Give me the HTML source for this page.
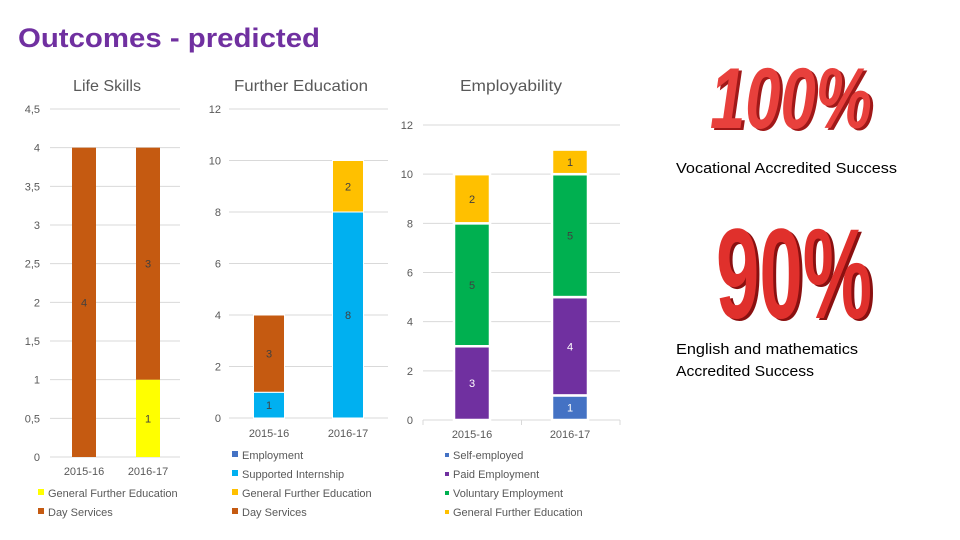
<!DOCTYPE html>
<html><head><meta charset="utf-8"><style>
html,body{margin:0;padding:0;background:#fff;}
svg{display:block;font-family:"Liberation Sans",sans-serif;}
</style></head><body>
<svg id="s" width="960" height="540" xmlns="http://www.w3.org/2000/svg">
<text x="18" y="47" font-size="27" font-weight="bold" fill="#7030A0" textLength="302" lengthAdjust="spacingAndGlyphs">Outcomes - predicted</text>
<text x="73" y="91" font-size="16" fill="#595959" textLength="68" lengthAdjust="spacingAndGlyphs">Life Skills</text>
<text x="234" y="91" font-size="16" fill="#595959" textLength="134" lengthAdjust="spacingAndGlyphs">Further Education</text>
<text x="460" y="91" font-size="16" fill="#595959" textLength="102" lengthAdjust="spacingAndGlyphs">Employability</text>
<g>
<text x="710" y="128" font-size="86" font-weight="bold" font-style="italic" fill="#a01818" textLength="162" lengthAdjust="spacingAndGlyphs" transform="translate(3,2)">100%</text>
<text x="710" y="128" font-size="86" font-weight="bold" font-style="italic" fill="#e8403c" textLength="162" lengthAdjust="spacingAndGlyphs">100%</text>
</g>
<text x="676" y="173" font-size="15" fill="#000" textLength="221" lengthAdjust="spacingAndGlyphs">Vocational Accredited Success</text>
<g>
<text x="716" y="318" font-size="128" font-weight="bold" fill="#8a1010" textLength="156" lengthAdjust="spacingAndGlyphs" transform="translate(3,2)">90%</text>
<text x="716" y="318" font-size="128" font-weight="bold" fill="#e0302c" textLength="156" lengthAdjust="spacingAndGlyphs">90%</text>
</g>
<text x="676" y="354" font-size="15" fill="#000" textLength="182" lengthAdjust="spacingAndGlyphs">English and mathematics</text>
<text x="676" y="376" font-size="15" fill="#000" textLength="138" lengthAdjust="spacingAndGlyphs">Accredited Success</text>
</svg>
<script>
// Life Skills
const lsCategories = ["2015-16","2016-17"];
const lsSeries = ["General Further Education","Day Services"];
const lsGFE = [0,1];
const lsDay = [4,3];
const lsTicks = ["0","0,5","1","1,5","2","2,5","3","3,5","4","4,5"];
// Further Education
const feCategories = ["2015-16","2016-17"];
const feSeries = ["Employment","Supported Internship","General Further Education","Day Services"];
const feEmployment = [0,0];
const feInternship = [1,8];
const feGFE = [0,2];
const feDay = [3,0];
const feTicks = ["0","2","4","6","8","10","12"];
// Employability
const emCategories = ["2015-16","2016-17"];
const emSeries = ["Self-employed","Paid Employment","Voluntary Employment","General Further Education"];
const emSelf = [0,1];
const emPaid = [3,4];
const emVol = [5,5];
const emGFE = [2,1];
const emTicks = ["0","2","4","6","8","10","12"];

const S = document.getElementById('s');
const NS = "http://www.w3.org/2000/svg";
function mk(tag, attrs, parent){ const e=document.createElementNS(NS,tag); for(const k in attrs) e.setAttribute(k,attrs[k]); (parent||S).appendChild(e); return e; }

function chart(cfg){
  const g = mk('g',{});
  
  
  const y = v => cfg.y0 - (v/cfg.max)*(cfg.y0-cfg.yTop);
  cfg.ticks.forEach((t,i)=>{
    const v = i*cfg.step, yy = y(v);
    const gl = mk('line',{x1:cfg.gx0,x2:cfg.gx1,y1:yy,y2:yy,stroke:'#d9d9d9','stroke-width':1},g);
    
    
    const tl = mk('text',{x:cfg.lx,y:yy+4,'font-size':11,fill:'#595959','text-anchor':'end'},g);
    tl.textContent = t;
    
    
  });
  if(cfg.tickMarks){
    [cfg.gx0,(cfg.gx0+cfg.gx1)/2,cfg.gx1].forEach(x=>{ mk('line',{x1:x,x2:x,y1:cfg.y0,y2:cfg.y0+5,stroke:'#d9d9d9'},g); });
  }
  cfg.cats.forEach((c,i)=>{
    const cx = cfg.cx[i];
    let base = 0;
    cfg.series.forEach((arr,si)=>{
      const v = arr[i];
      if(v<=0) return;
      const y1 = y(base+v), y2 = y(base);
      const r = mk('rect',{x:cx-cfg.bw/2,y:y1,width:cfg.bw,height:y2-y1,fill:cfg.colors[si],stroke:'#fff','stroke-width':cfg.gap},g);
      
      
      const t = mk('text',{x:cx,y:(y1+y2)/2+4,'font-size':11,fill:cfg.labelColors[si],'text-anchor':'middle'},g);
      t.textContent = v;
      
      
      base += v;
    });
    const xl = mk('text',{x:cx,y:cfg.y0+cfg.catDy,'font-size':11,fill:'#595959','text-anchor':'middle'},g);
    xl.textContent = c;
    
    
  });
  cfg.legend.forEach((name,i)=>{
    const ly = cfg.legY + i*19;
    const sq = mk('rect',{x:cfg.legX,y:ly-cfg.sq+1,width:cfg.sq,height:cfg.sq,fill:cfg.legColors[i]},g);
    
    
    const lt = mk('text',{x:cfg.legX+cfg.sq+4,y:ly+3,'font-size':11,fill:'#595959'},g);
    lt.textContent = name;
    
    
  });
}

chart({name:'life-skills-chart',cats:lsCategories,series:[lsGFE,lsDay],keys:['gfe','day-services'],
  colors:['#FFFF00','#C55A11'],labelColors:['#404040','#404040'],
  ticks:lsTicks,step:0.5,max:4.5,y0:457,yTop:109,gx0:50,gx1:180,lx:40,cx:[84,148],bw:24,gap:0,catDy:18,
  legend:[lsSeries[0],lsSeries[1]],legColors:['#FFFF00','#C55A11'],legX:38,legY:494,sq:6});

chart({name:'further-education-chart',cats:feCategories,series:[feEmployment,feInternship,feGFE,feDay],keys:['employment','internship','gfe','day-services'],
  colors:['#4472C4','#00B0F0','#FFC000','#C55A11'],labelColors:['#404040','#404040','#404040','#404040'],
  ticks:feTicks,step:2,max:12,y0:418,yTop:109,gx0:229,gx1:388,lx:221,cx:[269,348],bw:31,gap:1,catDy:19,
  legend:feSeries,legColors:['#4472C4','#00B0F0','#FFC000','#C55A11'],legX:232,legY:456,sq:6});

chart({name:'employability-chart',cats:emCategories,series:[emSelf,emPaid,emVol,emGFE],keys:['self-employed','paid','voluntary','gfe'],
  colors:['#4472C4','#7030A0','#00B050','#FFC000'],labelColors:['#fff','#fff','#404040','#404040'],
  ticks:emTicks,step:2,max:12,y0:420,yTop:125,gx0:423,gx1:620,lx:413,cx:[472,570],bw:36,gap:2.5,catDy:18,tickMarks:true,
  legend:emSeries,legColors:['#4472C4','#7030A0','#00B050','#FFC000'],legX:445,legY:456,sq:4});
</script>
</body></html>
